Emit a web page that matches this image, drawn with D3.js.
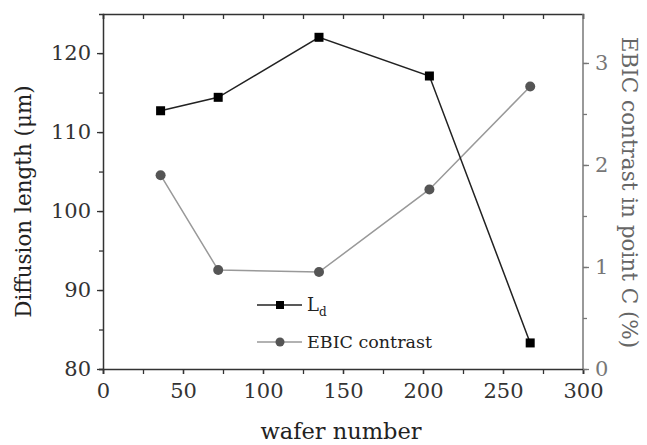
<!DOCTYPE html>
<html><head><meta charset="utf-8">
<script src="https://cdn.jsdelivr.net/npm/d3@7"></script>
<style>body{margin:0;background:#fff}svg{display:block}</style>
</head><body>
<svg id="c" width="647" height="445"></svg>
<script>
const wafer = [36, 72, 135, 204, 267];
const diffLen = [112.7, 114.4, 122.0, 117.1, 83.3];
const ebic = [1.90, 0.97, 0.95, 1.76, 2.77];
const xTicks = [0, 50, 100, 150, 200, 250, 300];
const yLeftTicks = [80, 90, 100, 110, 120];
const yRightTicks = [0, 1, 2, 3];

const svg = d3.select("#c");
const L = 103, R = 583, T = 14, B = 369;
const font = "'DejaVu Serif', 'Liberation Serif', serif";
const x = d3.scaleLinear().domain([0, 300]).range([L, R]);
const yL = d3.scaleLinear().domain([80, 124.95]).range([B, T]);
const yR = d3.scaleLinear().domain([0, 3.48]).range([B, T]);

function style(g, color) {
  g.selectAll("path.domain").attr("stroke", color).attr("stroke-width", 1.5);
  g.selectAll("line").attr("stroke", color).attr("stroke-width", 1.3);
  g.selectAll("text").attr("fill", color).style("font-family", font).style("font-size", "21px");
}

// minor ticks
const gxb = svg.append("g").attr("transform", `translate(0,${B})`)
  .call(d3.axisBottom(x).tickValues(d3.range(0, 301, 25)).tickSize(5).tickFormat(""));
style(gxb, "#333");
const gxl = svg.append("g").attr("transform", `translate(0,${B})`)
  .call(d3.axisBottom(x).tickValues(xTicks).tickSize(5).tickPadding(9).tickFormat(d3.format("d")));
style(gxl, "#333");
gxl.selectAll("path.domain").remove();
const gxt = svg.append("g").attr("transform", `translate(0,${T})`)
  .call(d3.axisBottom(x).tickValues(d3.range(0, 301, 25)).tickSize(5).tickFormat(""));
style(gxt, "#333");

const gyl = svg.append("g").attr("transform", `translate(${L},0)`)
  .call(d3.axisLeft(yL).tickValues(d3.range(80, 125, 5)).tickSize(4).tickFormat(""));
style(gyl, "#333");
const gyl2 = svg.append("g").attr("transform", `translate(${L},0)`)
  .call(d3.axisLeft(yL).tickValues(yLeftTicks).tickSize(6).tickPadding(6).tickFormat(d3.format("d")));
style(gyl2, "#333");
gyl2.selectAll("path.domain").remove();

const gyr = svg.append("g").attr("transform", `translate(${R},0)`)
  .call(d3.axisRight(yR).tickValues(d3.range(0, 3.01, 0.5)).tickSize(4).tickFormat(""));
style(gyr, "#777");
const gyr2 = svg.append("g").attr("transform", `translate(${R},0)`)
  .call(d3.axisRight(yR).tickValues(yRightTicks).tickSize(6).tickPadding(6).tickFormat(d3.format("d")));
style(gyr2, "#777");
gyr2.selectAll("path.domain").remove();
gyr.selectAll("path.domain").attr("d", `M0,${B}V${T}`);

// labels
svg.append("text").attr("transform", `translate(31,${(T+B)/2+10}) rotate(-90)`)
  .attr("text-anchor", "middle").style("font-family", font).style("font-size", "21.5px").attr("fill", "#222")
  .text("Diffusion length (μm)");
svg.append("text").attr("transform", `translate(622,${(T+B)/2+1}) rotate(90)`)
  .attr("text-anchor", "middle").style("font-family", font).style("font-size", "21.5px").attr("fill", "#666")
  .text("EBIC contrast in point C (%)");
svg.append("text").attr("x", 341).attr("y", 439).attr("text-anchor", "middle")
  .style("font-family", font).style("font-size", "22.5px").attr("fill", "#222").text("wafer number");

// series
const ptsE = wafer.map((w, i) => [w, ebic[i]]);
const ptsL = wafer.map((w, i) => [w, diffLen[i]]);
svg.append("path").datum(ptsE).attr("fill", "none").attr("stroke", "#999").attr("stroke-width", 1.5)
  .attr("d", d3.line().x(d => x(d[0])).y(d => yR(d[1])));
svg.selectAll("circle.e").data(ptsE).join("circle").attr("cx", d => x(d[0])).attr("cy", d => yR(d[1]))
  .attr("r", 5).attr("fill", "#555");
svg.append("path").datum(ptsL).attr("fill", "none").attr("stroke", "#222").attr("stroke-width", 1.5)
  .attr("d", d3.line().x(d => x(d[0])).y(d => yL(d[1])));
svg.selectAll("rect.l").data(ptsL).join("rect").attr("x", d => x(d[0]) - 4.5).attr("y", d => yL(d[1]) - 4.5)
  .attr("width", 9).attr("height", 9).attr("fill", "#000");

// legend
const lg = svg.append("g");
lg.append("line").attr("x1", 257).attr("x2", 302).attr("y1", 305).attr("y2", 305).attr("stroke", "#222").attr("stroke-width", 1.5);
lg.append("rect").attr("x", 276).attr("y", 301).attr("width", 8).attr("height", 8).attr("fill", "#000");
const t1 = lg.append("text").attr("x", 307).attr("y", 311).style("font-family", font).style("font-size", "18px").attr("fill", "#222");
t1.append("tspan").text("L");
t1.append("tspan").attr("dy", 5).style("font-size", "12px").text("d");
lg.append("line").attr("x1", 257).attr("x2", 302).attr("y1", 342).attr("y2", 342).attr("stroke", "#999").attr("stroke-width", 1.5);
lg.append("circle").attr("cx", 280).attr("cy", 342).attr("r", 4.5).attr("fill", "#555");
lg.append("text").attr("x", 307).attr("y", 348).style("font-family", font).style("font-size", "17.5px").attr("fill", "#222").text("EBIC contrast");
</script>
</body></html>
